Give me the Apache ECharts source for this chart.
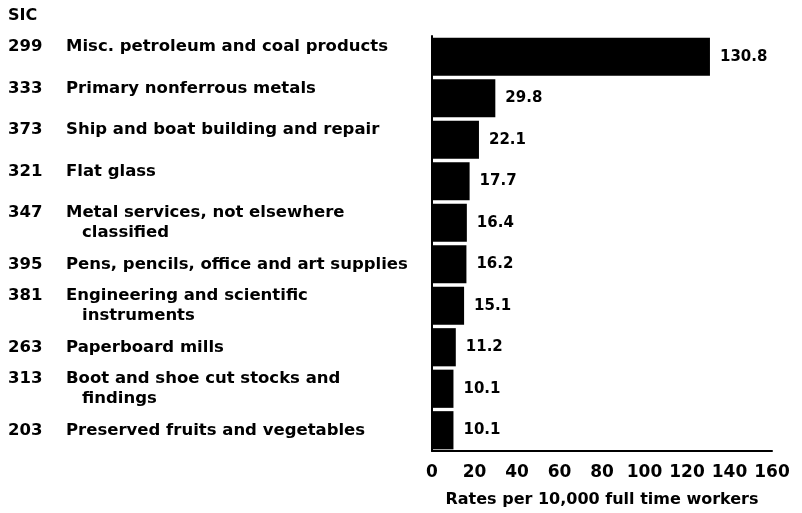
<!DOCTYPE html>
<html>
<head>
<meta charset="utf-8">
<script src="https://cdn.jsdelivr.net/npm/echarts@6/dist/echarts.min.js"></script>
<style>
  html, body { margin: 0; padding: 0; background: #fff; }
  #chart { width: 802px; height: 513px; }
</style>
</head>
<body>
<div id="chart"></div>
<script>
// SIC codes, industry names and rates, top to bottom
const codes = ['299', '333', '373', '321', '347', '395', '381', '263', '313', '203'];
const names = [
    'Misc. petroleum and coal products',
    'Primary nonferrous metals',
    'Ship and boat building and repair',
    'Flat glass',
    'Metal services, not elsewhere\nclassified',
    'Pens, pencils, office and art supplies',
    'Engineering and scientific\ninstruments',
    'Paperboard mills',
    'Boot and shoe cut stocks and\nfindings',
    'Preserved fruits and vegetables'
];
const rates = [130.8, 29.8, 22.1, 17.7, 16.4, 16.2, 15.1, 11.2, 10.1, 10.1];
const xTicks = [0, 160, 20];   // min, max, interval

const FONT = 'DejaVu Sans';

const chart = echarts.init(document.getElementById('chart'));

// build the two column label: code, then name (wrapped lines indented a bit)
const labelFor = (code, idx) => {
    const lines = names[idx].split('\n');
    let s = '{code|' + code + '}{name|' + lines[0] + '}';
    for (let i = 1; i < lines.length; i++) s += '\n{ind| }{name|' + lines[i] + '}';
    // the first rows sit a little above their bars in the original
    if (idx < 4) s += '\n{name| }';
    return s;
};

chart.setOption({
    animation: false,
    backgroundColor: '#fff',
    title: {
        text: 'SIC',
        left: 3,
        top: 3,
        textStyle: { fontFamily: FONT, fontWeight: 'bold', fontSize: 16, color: '#000' }
    },
    grid: { left: 432, right: 30, top: 36, bottom: 58 },
    xAxis: {
        type: 'value',
        min: xTicks[0],
        max: xTicks[1],
        interval: xTicks[2],
        name: 'Rates per 10,000 full time workers',
        nameLocation: 'middle',
        nameGap: 41,
        nameTextStyle: { fontFamily: FONT, fontWeight: 'bold', fontSize: 16, color: '#000' },
        axisLine: { show: true, lineStyle: { color: '#000', width: 2 } },
        axisTick: { show: false },
        splitLine: { show: false },
        axisLabel: { margin: 13, fontFamily: FONT, fontWeight: 'bold', fontSize: 17, color: '#000' }
    },
    yAxis: {
        type: 'category',
        inverse: true,
        data: codes,
        axisLine: { show: true, lineStyle: { color: '#000', width: 2 } },
        axisTick: { show: false },
        axisLabel: {
            align: 'left',
            margin: 424,
            formatter: labelFor,
            rich: {
                code: { width: 58, fontFamily: FONT, fontWeight: 'bold', fontSize: 16.5, color: '#000', lineHeight: 20 },
                ind: { width: 74, fontFamily: FONT, fontSize: 16.5, lineHeight: 20 },
                name: { fontFamily: FONT, fontWeight: 'bold', fontSize: 16.5, color: '#000', lineHeight: 20 }
            }
        }
    },
    series: [{
        type: 'bar',
        data: rates,
        barCategoryGap: '8%',
        itemStyle: { color: '#000' },
        label: {
            show: true,
            position: 'right',
            distance: 10,
            fontFamily: FONT,
            fontWeight: 'bold',
            fontSize: 15,
            color: '#000'
        }
    }]
});
</script>
</body>
</html>
